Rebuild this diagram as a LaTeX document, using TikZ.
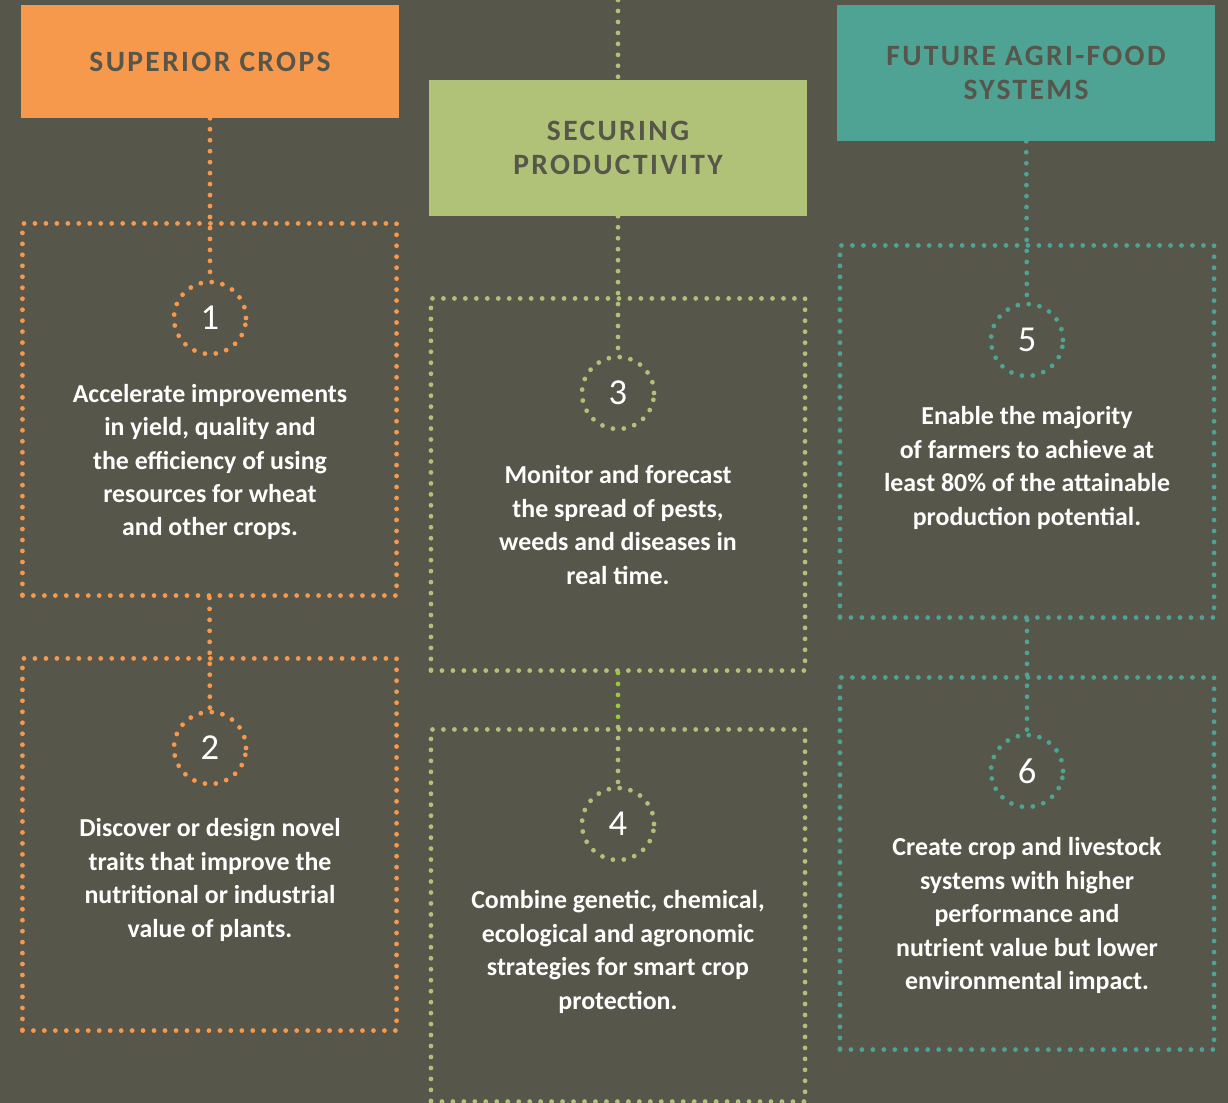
\documentclass[tikz,border=0pt]{standalone}
\usepackage{fontspec}
\setmainfont{Carlito}

\definecolor{bg}{HTML}{57564A}
\definecolor{orng}{HTML}{F7994D}
\definecolor{grn}{HTML}{B0C178}
\definecolor{lime}{HTML}{9CC83A}
\definecolor{teal}{HTML}{4FA394}

\tikzset{
  dotline/.style={line width=3.4pt, line cap=round, dash pattern=on 0pt off 7.8pt},
  header/.style={minimum width=9.45cm, inner sep=0pt, text=bg, align=center,
    font=\bfseries\fontsize{21}{24.5}\selectfont\addfontfeatures{LetterSpace=8}},
  dotbox/.style={dotline, minimum width=9.35cm, minimum height=9.3cm, inner sep=0pt},
  numring/.style={dotline, circle, minimum size=1.8cm, inner sep=0pt, text=white,
    font=\fontsize{26}{26}\selectfont},
  txt/.style={text=white, align=center, font=\bfseries\fontsize{18.4}{23.8}\selectfont}
}

\begin{document}
\begin{tikzpicture}[x=0.025cm, y=-0.025cm]

  \fill[bg] (0,0) rectangle (1228,1103);
  \useasboundingbox (0,0) rectangle (1228,1103);

  % column heads
  \node[header, fill=orng, minimum height=2.825cm] (hd1) at (210,61.5) {SUPERIOR CROPS};
  \node[header, fill=grn, minimum height=3.4cm] (hd2) at (618,148) {SECURING\\PRODUCTIVITY};
  \node[header, fill=teal, minimum height=3.4cm] (hd3) at (1026,73) {FUTURE AGRI-FOOD\\SYSTEMS};
  \coordinate (top2) at (618,0);

  % dotted frames and numbered rings
  \foreach \n/\x/\y/\clr in {1/209.5/409.5/orng, 2/209.5/844.5/orng,
                             3/618/484.5/grn, 4/618/915.5/grn,
                             5/1027/431.5/teal, 6/1027/863.5/teal}
  {
    \node[dotbox, draw=\clr] (b\n) at (\x,\y) {};
  }
  \foreach \n/\x/\y/\clr in {1/210/318/orng, 2/210/748/orng,
                             3/618/393/grn, 4/618/824/grn,
                             5/1027/340/teal, 6/1027/771/teal}
  {
    \node[numring, draw=\clr] (c\n) at (\x,\y) {\n};
  }

  % links
  \draw[dotline, orng] (hd1) -- (c1);
  \draw[dotline, orng] (b1.south) -- (c2);
  \draw[dotline, grn] (top2) -- (hd2);
  \draw[dotline, grn] (hd2) -- (c3);
  \draw[dotline, lime] (b3.south) -- (b4.north);
  \draw[dotline, grn] (b4.north) -- (c4);
  \draw[dotline, teal] (hd3) -- (c5);
  \draw[dotline, teal] (b5.south) -- (c6);

  \node[txt] (t1) at (210,462) {Accelerate improvements\\in yield, quality and\\the efficiency of using\\resources for wheat\\and other crops.};
  \node[txt] (t2) at (210,880) {Discover or design novel\\traits that improve the\\nutritional or industrial\\value of plants.};
  \node[txt] (t3) at (618,525) {Monitor and forecast\\the spread of pests,\\weeds and diseases in\\real time.};
  \node[txt] (t4) at (618,952) {Combine genetic, chemical,\\ecological and agronomic\\strategies for smart crop\\protection.};
  \node[txt] (t5) at (1027,468) {Enable the majority\\of farmers to achieve at\\least 80\% of the attainable\\production potential.};
  \node[txt] (t6) at (1027,915.5) {Create crop and livestock\\systems with higher\\performance and\\nutrient value but lower\\environmental impact.};

\end{tikzpicture}
\end{document}
